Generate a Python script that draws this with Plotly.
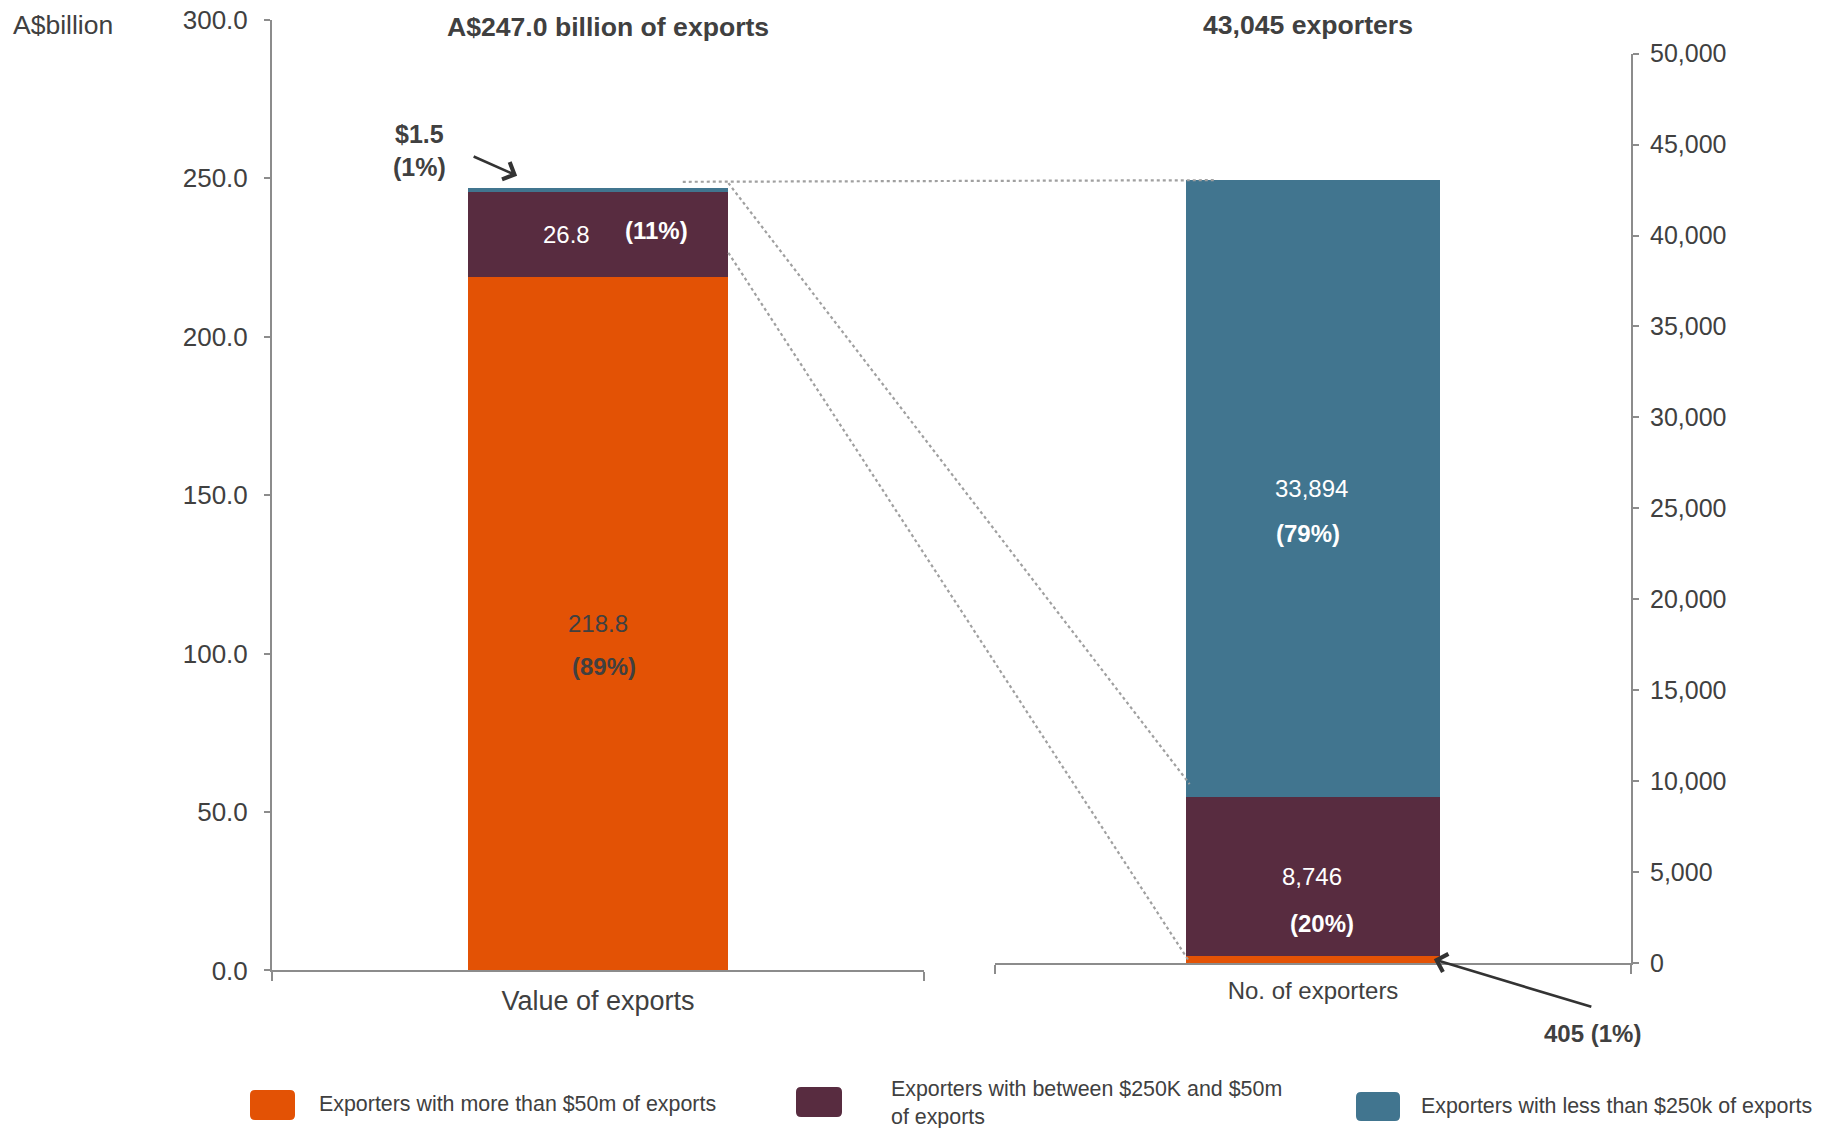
import plotly.graph_objects as go

# ---- data -------------------------------------------------------------
categories = ["Value of exports", "No. of exporters"]
series_names = [
    "Exporters with more than $50m of exports",
    "Exporters with between $250K and $50m<br>of exports",
    "Exporters with less than $250k of exports",
]
export_value_bn = [218.8, 26.8, 1.5]       # A$ billion, bottom to top
export_value_pct = [89, 11, 1]
exporter_count = [405, 8746, 33894]         # number of exporters, bottom to top
exporter_count_pct = [1, 20, 79]
panel_titles = ["A$247.0 billion of exports", "43,045 exporters"]
value_ticks = [0, 50, 100, 150, 200, 250, 300]
count_ticks = [0, 5000, 10000, 15000, 20000, 25000, 30000, 35000, 40000, 45000, 50000]
value_range = [0, 300]
count_range = [0, 50000]

# ---- styling ----------------------------------------------------------
colors = ["#E35205", "#582C40", "#41758F"]
TEXT = "#404040"
AXIS = "#8C8C8C"
FONT = "Liberation Sans, Arial, sans-serif"
W, H = 1831, 1128
BAR_W = 0.4

# plot frames in pixels: (left, right) and (y at range min, y at range max)
LX, LY = (272, 924), (970.4, 19.9)
RX, RY = (995, 1631), (963.0, 53.7)


def paper_x(px):
    return px / W


def paper_y(py):
    return 1 - py / H


def left_px(cat, val):
    x = LX[0] + (cat + 0.5) * (LX[1] - LX[0])
    y = LY[0] + (val - value_range[0]) / (value_range[1] - value_range[0]) * (LY[1] - LY[0])
    return x, y


def right_px(cat, val):
    x = RX[0] + (cat + 0.5) * (RX[1] - RX[0])
    y = RY[0] + (val - count_range[0]) / (count_range[1] - count_range[0]) * (RY[1] - RY[0])
    return x, y


fig = go.Figure()

for i, name in enumerate(series_names):
    fig.add_trace(go.Bar(
        x=[categories[0]], y=[export_value_bn[i]], width=BAR_W,
        marker=dict(color=colors[i], line=dict(width=0)),
        name=name, showlegend=False, hoverinfo="skip",
        xaxis="x", yaxis="y",
    ))
    fig.add_trace(go.Bar(
        x=[categories[1]], y=[exporter_count[i]], width=BAR_W,
        marker=dict(color=colors[i], line=dict(width=0)),
        name=name, showlegend=False, hoverinfo="skip",
        xaxis="x2", yaxis="y2",
    ))

annotations = []
shapes = []


def seg_label(text, xref, yref, cat, y, color, bold=False, xshift=0, yshift=0, size=24):
    t = f"<b>{text}</b>" if bold else text
    annotations.append(dict(
        text=t, x=cat, y=y, xref=xref, yref=yref, showarrow=False,
        xshift=xshift, yshift=yshift, xanchor="center", yanchor="middle",
        font=dict(family=FONT, size=size, color=color),
    ))


# in-bar labels, value plus share underneath
left_label_style = [
    dict(color=TEXT, vx=0, vy=0, px=6, py=-43),
    dict(color="white", vx=-32, vy=0, px=58, py=4),
]
base = 0
for i, style in enumerate(left_label_style):
    mid = base + export_value_bn[i] / 2
    seg_label(f"{export_value_bn[i]:.1f}", "x", "y", categories[0], mid, style["color"],
              xshift=style["vx"], yshift=style["vy"])
    seg_label(f"({export_value_pct[i]}%)", "x", "y", categories[0], mid, style["color"], bold=True,
              xshift=style["px"], yshift=style["py"])
    base += export_value_bn[i]

right_label_style = {
    1: dict(color="white", vx=-1, vy=0, px=9, py=-47),
    2: dict(color="white", vx=-2, vy=0, px=-5, py=-45),
}
base = exporter_count[0]
for i in (1, 2):
    style = right_label_style[i]
    mid = base + exporter_count[i] / 2
    seg_label(f"{exporter_count[i]:,}", "x2", "y2", categories[1], mid, style["color"],
              xshift=style["vx"], yshift=style["vy"])
    seg_label(f"({exporter_count_pct[i]}%)", "x2", "y2", categories[1], mid, style["color"], bold=True,
              xshift=style["px"], yshift=style["py"])
    base += exporter_count[i]

# call-outs for the thin segments
annotations.append(dict(
    text=f"<b>${export_value_bn[2]:.1f}<br>({export_value_pct[2]}%)</b>",
    x=paper_x(419), y=paper_y(151), xref="paper", yref="paper", showarrow=False,
    xanchor="center", yanchor="middle", align="center",
    font=dict(family=FONT, size=25, color=TEXT),
))
annotations.append(dict(
    text="", x=-0.124, y=sum(export_value_bn) + 3.7, xref="x", yref="y",
    showarrow=True, arrowhead=4, arrowsize=1.4, arrowwidth=2.6, arrowcolor="#333333",
    ax=-45, ay=-20, standoff=0,
))
annotations.append(dict(
    text=f"<b>{exporter_count[0]:,} ({exporter_count_pct[0]}%)</b>",
    x=paper_x(1592), y=paper_y(1033), xref="paper", yref="paper", showarrow=False,
    xanchor="center", yanchor="middle",
    font=dict(family=FONT, size=24, color=TEXT),
))
annotations.append(dict(
    text="", x=0.19, y=exporter_count[0] / 2, xref="x2", yref="y2",
    showarrow=True, arrowhead=4, arrowsize=1.4, arrowwidth=2.6, arrowcolor="#333333",
    ax=159, ay=48, standoff=0,
))

# panel headings and unit label
annotations.append(dict(
    text=f"<b>{panel_titles[0]}</b>", x=paper_x(608), y=paper_y(27), xref="paper", yref="paper",
    showarrow=False, xanchor="center", yanchor="middle",
    font=dict(family=FONT, size=26.6, color=TEXT),
))
annotations.append(dict(
    text=f"<b>{panel_titles[1]}</b>", x=paper_x(1308), y=paper_y(24.5), xref="paper", yref="paper",
    showarrow=False, xanchor="center", yanchor="middle",
    font=dict(family=FONT, size=26.6, color=TEXT),
))
annotations.append(dict(
    text="A$billion", x=paper_x(11), y=paper_y(24.5), xref="paper", yref="paper",
    showarrow=False, xanchor="left", yanchor="middle",
    font=dict(family=FONT, size=26.5, color=TEXT),
))

# dotted connectors between the two bars
total_value = sum(export_value_bn)
total_count = sum(exporter_count)
connectors = [
    (left_px(0.13, total_value + 1.8), right_px(-0.156, total_count)),
    (left_px(BAR_W / 2, total_value + 1.4), right_px(-BAR_W / 2 + 0.006, 9840)),
    (left_px(BAR_W / 2, 226.5), right_px(-BAR_W / 2 + 0.006, 50)),
]
for (x0, y0), (x1, y1) in connectors:
    shapes.append(dict(
        type="line", xref="paper", yref="paper",
        x0=paper_x(x0), y0=paper_y(y0), x1=paper_x(x1), y1=paper_y(y1),
        line=dict(color="#A0A0A0", width=2.2, dash="dot"), layer="above",
    ))


# legend drawn as rounded swatches with text
def rounded_rect(x0, y0, x1, y1, r):
    X = paper_x
    Y = paper_y
    return (f"M{X(x0 + r)},{Y(y0)} L{X(x1 - r)},{Y(y0)} Q{X(x1)},{Y(y0)} {X(x1)},{Y(y0 + r)} "
            f"L{X(x1)},{Y(y1 - r)} Q{X(x1)},{Y(y1)} {X(x1 - r)},{Y(y1)} "
            f"L{X(x0 + r)},{Y(y1)} Q{X(x0)},{Y(y1)} {X(x0)},{Y(y1 - r)} "
            f"L{X(x0)},{Y(y0 + r)} Q{X(x0)},{Y(y0)} {X(x0 + r)},{Y(y0)} Z")


legend_swatches = [(250, 1090, 295, 1120), (796, 1087, 842, 1117), (1356, 1092, 1400, 1121)]
legend_text_pos = [(317, 1104), (889, 1102.5), (1419, 1106)]
for i, name in enumerate(series_names):
    sx0, sy0, sx1, sy1 = legend_swatches[i]
    shapes.append(dict(
        type="path", xref="paper", yref="paper", path=rounded_rect(sx0, sy0, sx1, sy1, 5),
        fillcolor=colors[i], line=dict(width=0),
    ))
    tx, ty = legend_text_pos[i]
    annotations.append(dict(
        text=name, x=paper_x(tx), y=paper_y(ty), xref="paper", yref="paper",
        showarrow=False, xanchor="left", yanchor="middle", align="left",
        font=dict(family=FONT, size=21.4, color=TEXT),
    ))

axis_common = dict(
    showline=True, linecolor=AXIS, linewidth=2, showgrid=False, zeroline=False,
    ticks="outside", tickcolor=AXIS, tickwidth=2, automargin=False, fixedrange=True,
)

fig.update_layout(
    width=W, height=H,
    margin=dict(l=0, r=0, t=0, b=0),
    paper_bgcolor="white", plot_bgcolor="white",
    barmode="stack", bargap=0,
    showlegend=False,
    xaxis=dict(**axis_common, domain=[paper_x(LX[0]), paper_x(LX[1])], anchor="y",
               type="category", range=[-0.5, 0.5], tickson="boundaries", ticklen=9,
               ticklabelstandoff=5, tickfont=dict(family=FONT, size=27, color=TEXT)),
    yaxis=dict(**axis_common, domain=[paper_y(LY[0]), paper_y(LY[1])], anchor="x",
               range=value_range, tickvals=value_ticks, tickformat=".1f", ticklen=6,
               ticklabelstandoff=11, tickfont=dict(family=FONT, size=26, color=TEXT)),
    xaxis2=dict(**axis_common, domain=[paper_x(RX[0]), paper_x(RX[1])], anchor="y2",
                type="category", range=[-0.5, 0.5], tickson="boundaries", ticklen=9,
                ticklabelstandoff=5, tickfont=dict(family=FONT, size=24, color=TEXT)),
    yaxis2=dict(**axis_common, domain=[paper_y(RY[0]), paper_y(RY[1])], anchor="x2", side="right",
                range=count_range, tickvals=count_ticks, tickformat=",", ticklen=6,
                ticklabelstandoff=6, tickfont=dict(family=FONT, size=25, color=TEXT)),
    annotations=annotations,
    shapes=shapes,
)

fig.write_html("out.html")
